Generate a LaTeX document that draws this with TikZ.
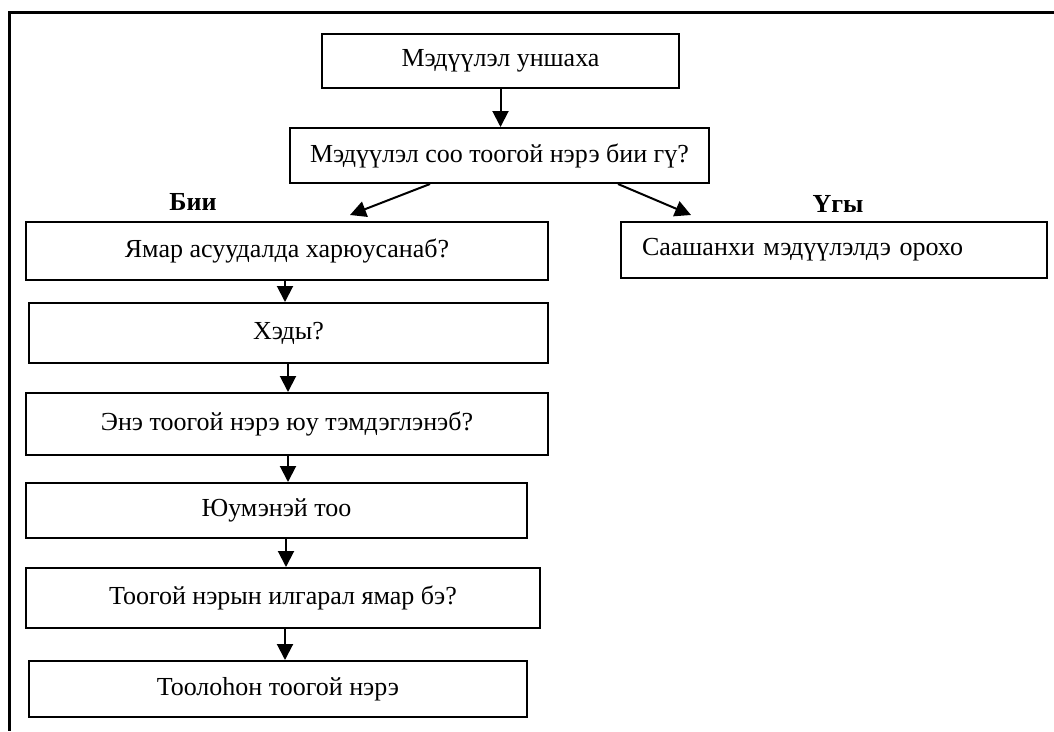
\documentclass[tikz,border=0pt]{standalone}
\usepackage{fontspec}
\setmainfont{Liberation Serif}
\usetikzlibrary{arrows.meta}
\begin{document}
\begin{tikzpicture}[x=1pt,y=-1pt,
  box/.style={draw,line width=2pt,inner sep=0pt,font=\fontsize{26}{30}\selectfont},
  lbl/.style={font=\fontsize{26}{30}\selectfont\bfseries,inner sep=0pt},
  arr/.style={line width=2pt,-{Triangle[width=16pt,length=16pt]}},
  frame/.style={line width=3pt}]
\useasboundingbox (0,0) rectangle (1054,731);
\coordinate (ftr) at (1054,12);
\coordinate (ftl) at (8,12);
\coordinate (fbl) at (9,731);
\draw[frame] (ftr) -- (ftl) -- (9,12) -- (fbl);

\node[box,minimum width=357pt,minimum height=54pt] (b1) at (500.5,61) {Мэдүүлэл уншаха};
\node[box,minimum width=419pt,minimum height=55pt] (b2) at (499.5,155.5) {Мэдүүлэл соо тоогой нэрэ бии гү?};
\node[box,minimum width=522pt,minimum height=58pt] (b3) at (287,251) {Ямар асуудалда харюусанаб?};
\node[box,minimum height=56pt,text width=384pt,inner xsep=21pt,align=left] (r) at (834,250) {Саашанхи мэдүүлэлдэ орохо};
\node[box,minimum width=519pt,minimum height=60pt] (b4) at (288.5,333) {Хэды?};
\node[box,minimum width=522pt,minimum height=62pt] (b5) at (287,424) {Энэ тоогой нэрэ юу тэмдэглэнэб?};
\node[box,minimum width=501pt,minimum height=55pt] (b6) at (276.5,510.5) {Юумэнэй тоо};
\node[box,minimum width=514pt,minimum height=60pt] (b7) at (283,598) {Тоогой нэрын илгарал ямар бэ?};
\node[box,minimum width=498pt,minimum height=56pt] (b8) at (278,689) {Тоолоhон тоогой нэрэ};

\node[lbl] (yes) at (193,202) {Бии};
\node[lbl] (no) at (838,204) {Үгы};

\coordinate (tl) at (350,215);
\coordinate (tr) at (691,215);

\draw[arr] (b1.south) -- (b1.south |- b2.north);
\draw[arr] ([xshift=-69.5pt]b2.south) -- (tl);
\draw[arr] ([xshift=118.5pt]b2.south) -- (tr);
\draw[arr] ([xshift=-2pt]b3.south) -- ([xshift=-2pt]b3.south |- b4.north);
\draw[arr] (b4.south -| 288,0) -- (b5.north -| 288,0);
\draw[arr] (b5.south -| 288,0) -- (b6.north -| 288,0);
\draw[arr] (b6.south -| 286,0) -- (b7.north -| 286,0);
\draw[arr] (b7.south -| 285,0) -- (b8.north -| 285,0);
\end{tikzpicture}
\end{document}
